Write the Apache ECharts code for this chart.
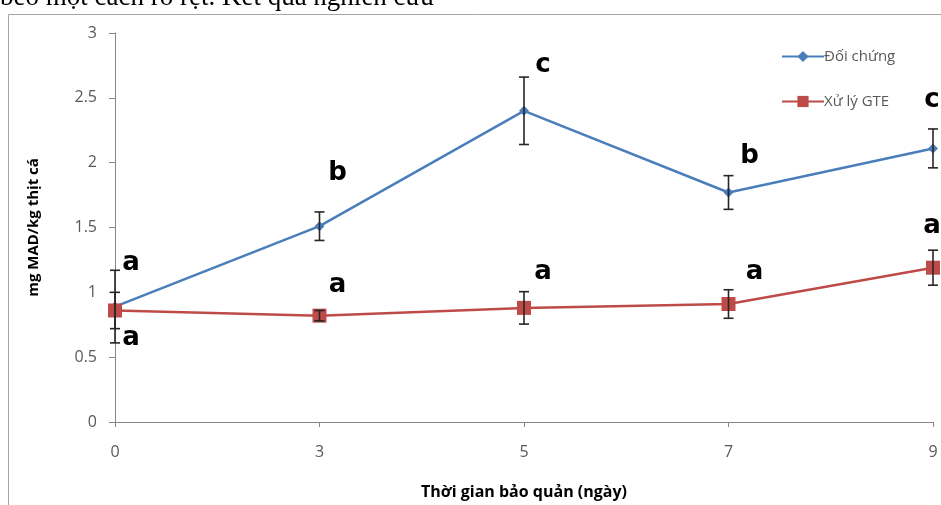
<!DOCTYPE html>
<html>
<head>
<meta charset="utf-8">
<script src="https://cdn.jsdelivr.net/npm/echarts@6/dist/echarts.min.js"></script>
<style>
html,body{margin:0;padding:0;background:#fff;}
#chart{width:941px;height:505px;}
</style>
</head>
<body>
<div id="chart"></div>
<script>
// ---- data ----
const categories = ['0', '3', '5', '7', '9'];
const controlName = 'Đối chứng';
const gteName = 'Xử lý GTE';
const controlMean = [0.89, 1.51, 2.40, 1.77, 2.11];
const controlErr = [0.28, 0.11, 0.26, 0.13, 0.15];
const gteMean = [0.86, 0.82, 0.88, 0.91, 1.19];
const gteErr = [0.14, 0.04, 0.125, 0.11, 0.135];
const controlLetters = ['a', 'b', 'c', 'b', 'c'];
const gteLetters = ['a', 'a', 'a', 'a', 'a'];
const yTicks = [0, 0.5, 1, 1.5, 2, 2.5, 3];
const xTitle = 'Thời gian bảo quản (ngày)';
const yTitle = 'mg MAD/kg thịt cá';
const headerText = 'beo một cách rõ rệt. Kết quả nghiên cứu';

// ---- styles ----
const blue = '#4A7EBB';
const red = '#BE4B48';
const controlLabelOffsets = [[16, -43], [18, -53], [19, -46], [21, -36], [-1, -48]];
const gteLabelOffsets = [[16, 28], [18, -30], [19, -36], [26, -32], [-1, -41]];
const letterFont = {fontFamily: "'DejaVu Sans', sans-serif", fontWeight: 900, fontSize: 26, color: '#000'};

function withLetters(means, letters, offsets) {
  return means.map((v, i) => ({
    value: v,
    label: Object.assign({show: true, position: 'inside', formatter: letters[i], offset: offsets[i], align: 'center', verticalAlign: 'middle'}, letterFont)
  }));
}
function errData(means, errs) {
  return means.map((m, i) => [i, m, errs[i]]);
}
function renderErr(params, api) {
  const i = api.value(0), m = api.value(1), e = api.value(2);
  const top = api.coord([i, m + e]);
  const bot = api.coord([i, m - e]);
  const hw = 5;
  const st = {stroke: '#262626', lineWidth: 1.6};
  return {
    type: 'group',
    children: [
      {type: 'line', shape: {x1: top[0], y1: top[1], x2: bot[0], y2: bot[1]}, style: st},
      {type: 'line', shape: {x1: top[0] - hw, y1: top[1], x2: top[0] + hw, y2: top[1]}, style: st},
      {type: 'line', shape: {x1: bot[0] - hw, y1: bot[1], x2: bot[0] + hw, y2: bot[1]}, style: st}
    ]
  };
}

const chart = echarts.init(document.getElementById('chart'), null, {renderer: 'canvas'});
const axisFont = {fontFamily: "'Open Sans', sans-serif", fontSize: 16, color: '#595959'};
chart.setOption({
  animation: false,
  backgroundColor: '#fff',
  grid: {left: 115, right: 8, top: 33, bottom: 83, containLabel: false},
  graphic: [
    {type: 'rect', left: 6, top: 12, shape: {x: 0, y: 0, width: 960, height: 520}, style: {fill: 'none', stroke: '#a6a6a6', lineWidth: 1}, silent: true},
    {type: 'text', x: 0, y: 11, style: {text: headerText, font: "27px 'Liberation Serif', serif", fill: '#000', verticalAlign: 'bottom'}, silent: true}
  ],
  legend: {
    orient: 'vertical',
    left: 776,
    top: 44,
    itemWidth: 42,
    itemHeight: 14,
    itemGap: 30,
    textStyle: {fontFamily: "'Open Sans', sans-serif", fontSize: 15, color: '#595959', padding: [0, 0, 0, -5]},
    data: [controlName, gteName]
  },
  xAxis: {
    type: 'category',
    data: categories,
    boundaryGap: false,
    name: xTitle,
    nameLocation: 'middle',
    nameGap: 62,
    nameTextStyle: {fontFamily: "'Open Sans', sans-serif", fontSize: 16, fontWeight: 'bold', color: '#000'},
    axisLine: {lineStyle: {color: '#868686', width: 1}},
    axisTick: {show: true, length: 5, lineStyle: {color: '#868686'}},
    axisLabel: Object.assign({margin: 22}, axisFont),
    splitLine: {show: false}
  },
  yAxis: {
    type: 'value',
    min: yTicks[0],
    max: yTicks[yTicks.length - 1],
    interval: yTicks[1] - yTicks[0],
    name: yTitle,
    nameLocation: 'middle',
    nameGap: 74,
    nameRotate: 90,
    nameTextStyle: {fontFamily: "'Open Sans', sans-serif", fontSize: 15, fontWeight: 'bold', color: '#000'},
    axisLine: {show: true, lineStyle: {color: '#868686', width: 1}},
    axisTick: {show: true, length: 6, lineStyle: {color: '#868686'}},
    axisLabel: Object.assign({margin: 18}, axisFont),
    splitLine: {show: false}
  },
  series: [
    {
      name: controlName,
      type: 'line',
      data: withLetters(controlMean, controlLetters, controlLabelOffsets),
      symbol: 'diamond',
      symbolSize: 10,
      itemStyle: {color: blue},
      lineStyle: {color: blue, width: 2.5},
      z: 3
    },
    {
      name: gteName,
      type: 'line',
      data: withLetters(gteMean, gteLetters, gteLabelOffsets),
      symbol: 'rect',
      symbolSize: 14,
      itemStyle: {color: red},
      lineStyle: {color: red, width: 2.5},
      z: 3
    },
    {
      type: 'custom',
      renderItem: renderErr,
      data: errData(controlMean, controlErr),
      z: 5,
      silent: true
    },
    {
      type: 'custom',
      renderItem: renderErr,
      data: errData(gteMean, gteErr),
      z: 5,
      silent: true
    }
  ]
});
</script>
</body>
</html>
